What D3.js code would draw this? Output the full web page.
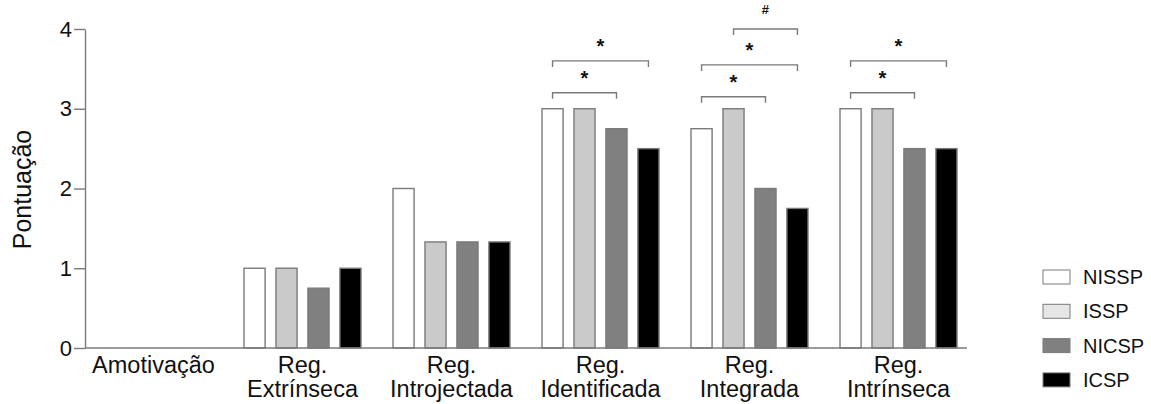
<!DOCTYPE html>
<html>
<head>
<meta charset="utf-8">
<script src="https://cdn.jsdelivr.net/npm/d3@7"></script>
<style>
  body { margin: 0; background: #fff; }
  text { font-family: "Liberation Sans", Arial, sans-serif; fill: #111; }
</style>
</head>
<body>
<svg id="chart"></svg>
<script>
const categories = [
    ['Amotivação'],
    ['Reg.', 'Extrínseca'],
    ['Reg.', 'Introjectada'],
    ['Reg.', 'Identificada'],
    ['Reg.', 'Integrada'],
    ['Reg.', 'Intrínseca']
];
const series = ['NISSP', 'ISSP', 'NICSP', 'ICSP'];
const colors = ['#ffffff', '#cacaca', '#808080', '#000000'];

const valuesNISSP = [0, 1, 2, 3, 2.75, 3];
const valuesISSP  = [0, 1, 1.33, 3, 3, 3];
const valuesNICSP = [0, 0.75, 1.33, 2.75, 2, 2.5];
const valuesICSP  = [0, 1, 1.33, 2.5, 1.75, 2.5];
const yTicks = [0, 1, 2, 3, 4];

// significance brackets: group index, from series, to series, level, mark
const brackets = [
    [3, 'NISSP', 'NICSP', 3.2, '*'],
    [3, 'NISSP', 'ICSP', 3.6, '*'],
    [4, 'NISSP', 'NICSP', 3.15, '*'],
    [4, 'NISSP', 'ICSP', 3.55, '*'],
    [4, 'ISSP', 'ICSP', 4.0, '#'],
    [5, 'NISSP', 'NICSP', 3.2, '*'],
    [5, 'NISSP', 'ICSP', 3.6, '*']
];

const allValues = [valuesNISSP, valuesISSP, valuesNICSP, valuesICSP];
const width = 1151, height = 404;
const axisColor = '#7a7a7a';

const svg = d3.select('#chart')
    .attr('width', width)
    .attr('height', height);

const keys = categories.map((c, i) => i);

const x0 = d3.scaleBand()
    .domain(keys)
    .range([79, 973]);

const x1 = d3.scaleBand()
    .domain(series)
    .range([-58.5, 58.5])
    .paddingInner(0.34);

const y = d3.scaleLinear()
    .domain([0, 4])
    .range([348, 29]);

// bars
const groups = svg.append('g')
    .selectAll('g')
    .data(keys)
    .enter()
    .append('g')
    .attr('transform', d => `translate(${x0(d) + x0.bandwidth() / 2},0)`);

groups.selectAll('rect')
    .data(k => series.map((s, j) => ({ s, j, v: allValues[j][k] })).filter(d => d.v > 0))
    .enter()
    .append('rect')
    .attr('x', d => x1(d.s))
    .attr('width', x1.bandwidth())
    .attr('y', d => y(d.v))
    .attr('height', d => y(0) - y(d.v))
    .attr('fill', d => colors[d.j])
    .attr('stroke', axisColor)
    .attr('stroke-width', 1.4);

// y axis
const yAxis = svg.append('g')
    .attr('transform', 'translate(85,0)')
    .call(d3.axisLeft(y).tickValues(yTicks).tickFormat(d3.format('d'))
        .tickSize(11).tickPadding(2).tickSizeOuter(0));
yAxis.select('.domain').attr('stroke', axisColor).attr('stroke-width', 1.4);
yAxis.selectAll('.tick line').attr('stroke', axisColor).attr('stroke-width', 1.4);
yAxis.selectAll('.tick text')
    .attr('font-size', 22)
    .style('font-family', '"Liberation Sans", Arial, sans-serif')
    .attr('fill', '#111');

// x baseline
svg.append('line')
    .attr('x1', 85).attr('x2', 967)
    .attr('y1', y(0)).attr('y2', y(0))
    .attr('stroke', axisColor)
    .attr('stroke-width', 1.4);

// category labels
const labels = svg.append('g')
    .selectAll('text')
    .data(keys)
    .enter()
    .append('text')
    .attr('text-anchor', 'middle')
    .attr('font-size', 23.5)
    .attr('x', d => x0(d) + x0.bandwidth() / 2)
    .attr('y', 373);

labels.selectAll('tspan')
    .data(k => categories[k])
    .enter()
    .append('tspan')
    .attr('x', function () { return d3.select(this.parentNode).attr('x'); })
    .attr('dy', (d, i) => i === 0 ? 0 : 24)
    .text(d => d);

// y title
svg.append('text')
    .attr('transform', 'translate(31,189.5) rotate(-90)')
    .attr('text-anchor', 'middle')
    .attr('font-size', 25)
    .text('Pontuação');

// brackets
const bx = (g, s) => x0(g) + x0.bandwidth() / 2 + x1(s) + x1.bandwidth() / 2;

const br = svg.append('g')
    .selectAll('g')
    .data(brackets)
    .enter()
    .append('g');

br.append('path')
    .attr('d', d => {
        const xa = bx(d[0], d[1]), xb = bx(d[0], d[2]), yy = y(d[3]);
        return `M${xa},${yy + 6}V${yy}H${xb}V${yy + 6}`;
    })
    .attr('fill', 'none')
    .attr('stroke', axisColor)
    .attr('stroke-width', 1.4);

br.append('text')
    .attr('text-anchor', 'middle')
    .attr('x', d => (bx(d[0], d[1]) + bx(d[0], d[2])) / 2)
    .attr('y', d => y(d[3]) - (d[4] === '#' ? 15 : 8))
    .attr('font-size', d => d[4] === '#' ? 13 : 20)
    .attr('font-weight', 'bold')
    .text(d => d[4]);

// legend
const legend = svg.append('g')
    .selectAll('g')
    .data(series)
    .enter()
    .append('g')
    .attr('transform', (d, i) => `translate(1043,${270 + i * 34.3})`);

legend.append('rect')
    .attr('width', 27)
    .attr('height', 14)
    .attr('fill', (d, i) => i === 1 ? '#e6e6e6' : colors[i])
    .attr('stroke', axisColor)
    .attr('stroke-width', 1);

legend.append('text')
    .attr('x', 40)
    .attr('y', 14)
    .attr('font-size', 20)
    .text(d => d);
</script>
</body>
</html>
